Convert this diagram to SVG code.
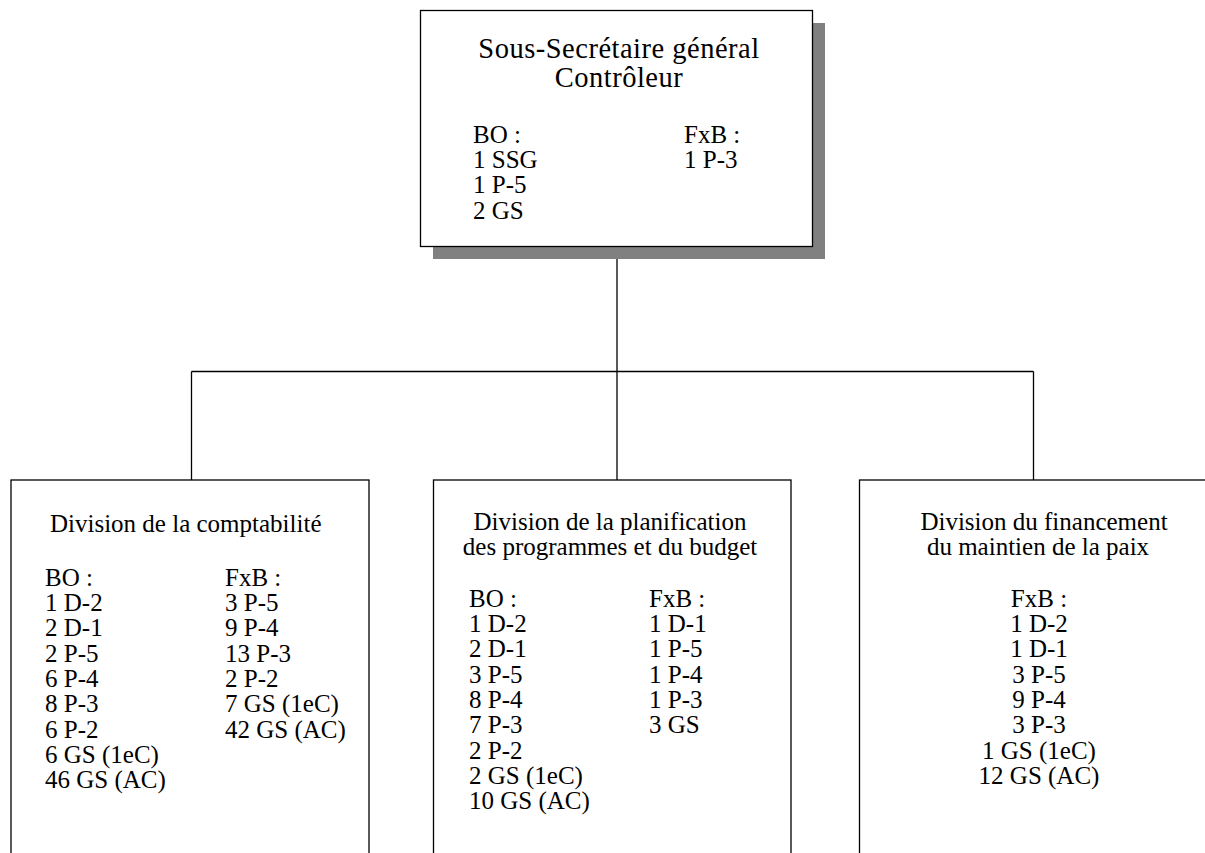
<svg xmlns="http://www.w3.org/2000/svg" width="1205" height="853" viewBox="0 0 1205 853">
<style>
.box{fill:#fff;stroke:#000;stroke-width:1.3}
.shadow{fill:#808080;stroke:none}
text{font-family:'Liberation Serif','Times New Roman','DejaVu Serif',serif;font-size:25px;fill:#000}
.h{font-size:28.5px;letter-spacing:0.5px}
.c{text-anchor:middle}
.conn{stroke:#000;stroke-width:1.3;fill:none}
</style>
<rect width="1205" height="853" fill="#fff"/>
<g id="connectors">
<line class="conn" x1="617" y1="246" x2="617" y2="480"/>
<line class="conn" x1="191.5" y1="371.5" x2="1033.5" y2="371.5"/>
<line class="conn" x1="191.5" y1="371.5" x2="191.5" y2="480"/>
<line class="conn" x1="1033.5" y1="371.5" x2="1033.5" y2="480"/>
</g>
<g id="ssg">
<rect class="shadow" x="433" y="23" width="392" height="236"/>
<rect class="box" x="420.5" y="10.5" width="392" height="236"/>
<text class="h c" x="619" y="57.5">Sous-Secrétaire général</text>
<text class="h c" x="619" y="86.5">Contrôleur</text>
<text x="473" y="143">BO :</text>
<text x="473" y="168">1 SSG</text>
<text x="473" y="193">1 P-5</text>
<text x="473" y="219">2 GS</text>
<text x="684" y="143">FxB :</text>
<text x="684" y="168">1 P-3</text>
</g>
<g id="compta">
<rect class="box" x="11" y="480" width="358" height="400"/>
<text x="50" y="532">Division de la comptabilité</text>
<text x="45" y="585.5">BO :</text>
<text x="45" y="611">1 D-2</text>
<text x="45" y="636">2 D-1</text>
<text x="45" y="661.5">2 P-5</text>
<text x="45" y="687">6 P-4</text>
<text x="45" y="712">8 P-3</text>
<text x="45" y="737.5">6 P-2</text>
<text x="45" y="763">6 GS (1eC)</text>
<text x="45" y="788">46 GS (AC)</text>
<text x="225" y="585.5">FxB :</text>
<text x="225" y="611">3 P-5</text>
<text x="225" y="636">9 P-4</text>
<text x="225" y="661.5">13 P-3</text>
<text x="225" y="687">2 P-2</text>
<text x="225" y="712">7 GS (1eC)</text>
<text x="225" y="737.5">42 GS (AC)</text>
</g>
<g id="planif">
<rect class="box" x="433.5" y="480" width="357.5" height="400"/>
<text class="c" x="610" y="530">Division de la planification</text>
<text class="c" x="610" y="555">des programmes et du budget</text>
<text x="469" y="606.5">BO :</text>
<text x="469" y="632">1 D-2</text>
<text x="469" y="657">2 D-1</text>
<text x="469" y="682.5">3 P-5</text>
<text x="469" y="708">8 P-4</text>
<text x="469" y="733">7 P-3</text>
<text x="469" y="758.5">2 P-2</text>
<text x="469" y="784">2 GS (1eC)</text>
<text x="469" y="809">10 GS (AC)</text>
<text x="649" y="606.5">FxB :</text>
<text x="649" y="632">1 D-1</text>
<text x="649" y="657">1 P-5</text>
<text x="649" y="682.5">1 P-4</text>
<text x="649" y="708">1 P-3</text>
<text x="649" y="733">3 GS</text>
</g>
<g id="maintien">
<rect class="box" x="859.5" y="480" width="400" height="400"/>
<text class="c" x="1044" y="530">Division du financement</text>
<text class="c" x="1038" y="555">du maintien de la paix</text>
<text class="c" x="1039" y="606.5">FxB :</text>
<text class="c" x="1039" y="632">1 D-2</text>
<text class="c" x="1039" y="657">1 D-1</text>
<text class="c" x="1039" y="682.5">3 P-5</text>
<text class="c" x="1039" y="708">9 P-4</text>
<text class="c" x="1039" y="733">3 P-3</text>
<text class="c" x="1039" y="758.5">1 GS (1eC)</text>
<text class="c" x="1039" y="784">12 GS (AC)</text>
</g>
</svg>
